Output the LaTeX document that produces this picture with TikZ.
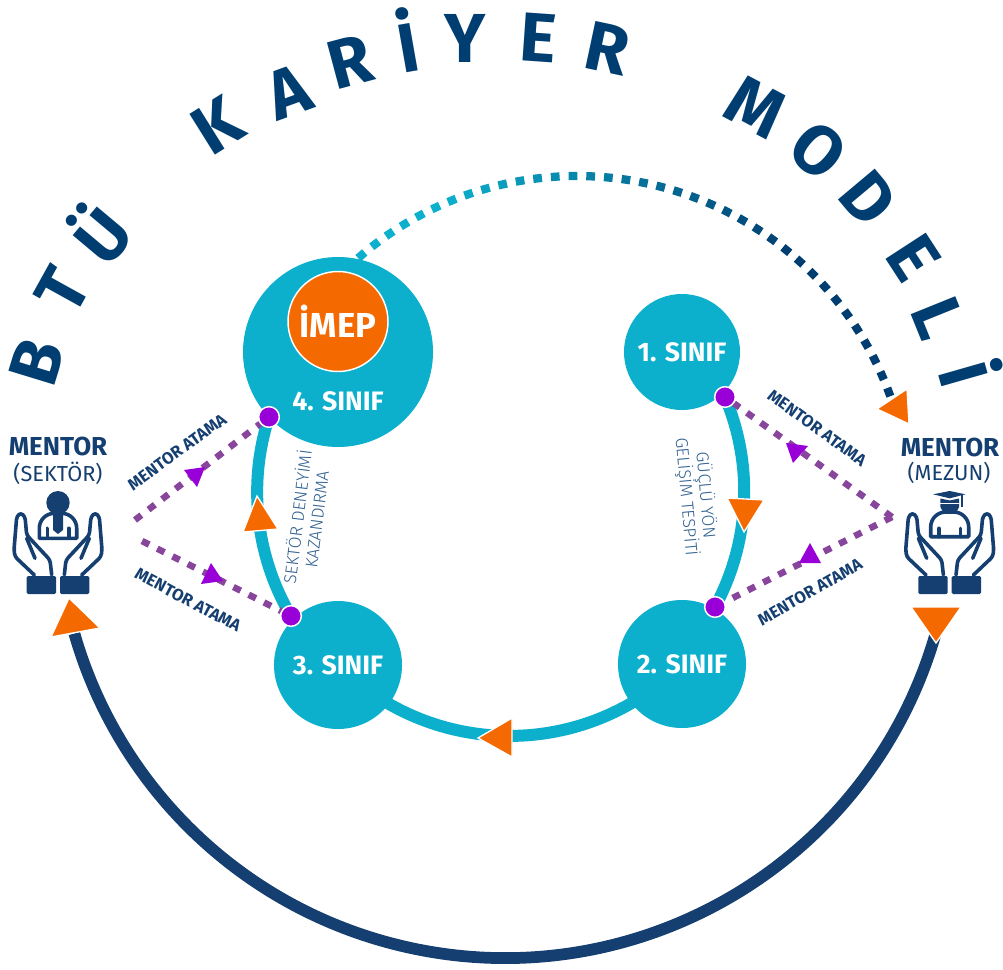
\documentclass[tikz,border=0pt]{standalone}
\usepackage{fontspec}
\setmainfont{Fira Sans}
\newfontfamily\lightfont{Fira Sans Light}
\usetikzlibrary{backgrounds}
\definecolor{teal}{HTML}{0CB0CC}
\definecolor{navy}{HTML}{153F70}
\definecolor{titleblue}{HTML}{003D70}
\definecolor{thinblue}{HTML}{2F5F8F}
\definecolor{orange}{HTML}{F56A00}
\definecolor{violet}{HTML}{9900D8}
\definecolor{plum}{HTML}{87469B}
\tikzset{
  x=0.75pt,y=-0.75pt,
  title/.style={text=titleblue,font=\fontsize{52}{52}\selectfont\bfseries,inner sep=0pt,outer sep=0pt},
  sinif/.style={circle,fill=teal,inner sep=0pt,text=white,font=\fontsize{20}{20}\selectfont\bfseries},
  sinifl/.style={text=white,font=\fontsize{20}{20}\selectfont\bfseries,inner sep=0pt},
  dotn/.style={circle,fill=violet,draw=white,line width=1.1pt,minimum size=15.5pt,inner sep=0pt},
  ring/.style={draw=teal,line width=9pt,line cap=butt},
  atama/.style={draw=plum,line width=4.9pt,dash pattern=on 6pt off 6.8pt},
  orangetip/.style={fill=orange,draw=white,line width=1pt,line join=miter},
  violettip/.style={fill=violet},
  mentor/.style={text=navy,font=\fontsize{19.5}{19.5}\selectfont\bfseries,inner sep=0pt},
  mentorsub/.style={text=navy,font=\fontsize{16.3}{16.3}\selectfont,inner sep=0pt},
  matama/.style={text=navy,font=\fontsize{12.5}{12.5}\selectfont\bfseries,inner sep=0pt},
  thin/.style={text=thinblue,font=\lightfont\fontsize{12.9}{14.5}\selectfont,align=center,inner sep=0pt},
  iconline/.style={draw=navy,line width=2.7pt,line cap=round,line join=round,fill=none},
}
\newcommand{\handpair}{%
  \foreach \s in {1,-1}{%
    \begin{scope}[xscale=\s]
      \draw[iconline,rounded corners=2.2pt] (-23.7,575)--(-43,556.7)--(-44,550)--(-41.3,516.7)--(-37.3,512.7)--(-33,516.7)--(-31.3,535)--(-8,560)--(-6.3,575);
      \draw[iconline] (-31.3,538.3)--(-23,558.3);
      \fill[navy,rounded corners=1pt] (-31.3,576) rectangle (-2,594);
    \end{scope}}%
}
\begin{document}
\begin{tikzpicture}
\useasboundingbox (0,0) rectangle (1003,970);
% title
\node[title,rotate=73] (t1) at (37,362) {B};
\node[title,rotate=61] (t2) at (63,290) {T};
\node[title,rotate=50] (t3) at (98,232) {Ü};
\node[title,rotate=32] (t4) at (217,125) {K};
\node[title,rotate=20] (t5) at (288,92) {A};
\node[title,rotate=15] (t6) at (350,62) {R};
\node[title,rotate=10] (t7) at (407,40) {İ};
\node[title,rotate=0] (t8) at (465,38) {Y};
\node[title,rotate=-4] (t9) at (538,38) {E};
\node[title,rotate=-12] (t10) at (607,48) {R};
\node[title,rotate=-28] (t11) at (756,107) {M};
\node[title,rotate=-40] (t12) at (818,150) {O};
\node[title,rotate=-50] (t13) at (868,198) {D};
\node[title,rotate=-57] (t14) at (914,258) {E};
\node[title,rotate=-68] (t15) at (938,318) {L};
\node[title,rotate=-74] (t16) at (972,372) {İ};
% class circles
\node[sinif,minimum size=142.5pt] (c4) at (338,352) {};
\node[sinifl] (c4l) at (338,401) {4. SINIF};
\node[circle,fill=orange,draw=white,line width=1.1pt,minimum size=75pt,inner sep=0pt,text=white,font=\fontsize{26}{26}\selectfont\bfseries] (imep) at (338,321.5) {İMEP};
\node[sinif,minimum size=87pt] (c1) at (682,352) {1. SINIF};
\node[sinif,minimum size=96pt] (c2) at (682,664) {2. SINIF};
\node[sinif,minimum size=96pt] (c3) at (338,665) {3. SINIF};
% dots
\node[dotn] (p4) at (269,417) {};
\node[dotn] (p1) at (725,397) {};
\node[dotn] (p2) at (715,607) {};
\node[dotn] (p3) at (291,616) {};
% free ends
\coordinate (apexL1) at (135,520);
\coordinate (apexL2) at (142,541);
\coordinate (apexR) at (892,517);
\coordinate (navyStart) at ({505+448*cos(15)},{510+448*sin(15)});
\begin{pgfonlayer}{background}
  \draw[ring] (p1.center) to[bend left=25.6,looseness=.9] (p2.center);
  \draw[ring] (c2.center) to[bend left=45] (c3.center);
  \draw[ring] (p3.center) to[bend left=24.3,looseness=.89] (p4.center);
  \draw[atama] (apexL1) -- (p4);
  \draw[atama] (apexL2) -- (p3);
  \draw[atama] (apexR) -- (p1);
  \draw[atama] (apexR) -- (p2);
  \draw[navy,line width=8.8pt] (navyStart) arc[start angle=15,end angle=164,radius=448];
\end{pgfonlayer}
% dotted top arc
\foreach \i in {0,...,36}{%
  \pgfmathsetmacro{\aa}{-131.1+3.05*\i}
  \pgfmathsetmacro{\ab}{\aa+1.5}
  \pgfmathsetmacro{\mixp}{max(0,min(100,(\i/37-0.15)/0.56*100))}
  \coordinate (da) at ({577+333*cos(\aa)},{509+333*sin(\aa)});
  \coordinate (db) at ({577+333*cos(\ab)},{509+333*sin(\ab)});
  \draw[draw=titleblue!\mixp!teal,line width=6.2pt] (da) -- (db);
}
% orange arrowheads
\draw[orangetip] (69,598)--(100,628)--(51,637)--cycle;
\draw[orangetip] (257,496)--(278,529)--(243,532)--cycle;
\draw[orangetip] (907,389)--(909,424)--(877,409)--cycle;
\draw[orangetip] (727,498)--(764,500)--(744,532)--cycle;
\draw[orangetip] (911,607)--(961,607)--(936,643)--cycle;
\draw[orangetip] (512,718)--(512,757)--(478,738)--cycle;
% violet arrowheads
\fill[violettip] (184,470)--(205,467)--(197,487)--cycle;
\fill[violettip] (211,563)--(223,581)--(201,584)--cycle;
\fill[violettip] (786,443)--(808,446)--(793,463)--cycle;
\fill[violettip] (810,543)--(821,563)--(799,563)--cycle;
% labels
\node[mentor] (ml) at (58,446) {MENTOR};
\node[mentorsub] (msl) at (58,473) {(SEKTÖR)};
\node[mentor] (mr) at (950,447) {MENTOR};
\node[mentorsub] (msr) at (949,473) {(MEZUN)};
\node[matama,rotate=36] (a1) at (177,452) {MENTOR ATAMA};
\node[matama,rotate=-28] (a2) at (188,600) {MENTOR ATAMA};
\node[matama,rotate=-36] (a3) at (817,428) {MENTOR ATAMA};
\node[matama,rotate=30] (a4) at (810,592) {MENTOR ATAMA};
\node[thin,rotate=83] (s1) at (306,518) {SEKTÖR DENEYİMİ\\KAZANDIRMA};
\node[thin,rotate=-85] (s2) at (696,496) {GÜÇLÜ YÖN\\GELİŞİM TESPİTİ};
% left icon
\begin{scope}[shift={(58,0)}]
  \handpair
  \fill[navy] (0,502.7) circle[radius=11.7];
  \fill[navy] (-5,512)--(5,512)--(5,530)--(0,534)--(-5,530)--cycle;
  \draw[iconline] (-18.7,538.3)--(-18.7,528.3) arc[start angle=180,end angle=270,radius=15]--(3.7,513.3) arc[start angle=270,end angle=360,radius=15]--(18.7,538.3)--cycle;
  \draw[iconline] (-10.7,528.3)--(-10.7,537.3) (10.7,528.3)--(10.7,537.3);
\end{scope}
% right icon
\begin{scope}[shift={(949.7,0)}]
  \handpair
  \fill[navy] (-16.7,494.3)--(0,491)--(15.7,494.3)--(0,498.3)--cycle;
  \fill[navy] (-9.3,498.5)--(0,500.5)--(9.3,498.5)--(9.3,507) .. controls (8,512) and (3,514) .. (0,514) .. controls (-3,514) and (-8,512) .. (-9.3,507)--cycle;
  \draw[white,line width=.8pt] (-9.5,503.5)--(9.5,503.5);
  \draw[navy,line width=.9pt] (12.3,495)--(12.3,506.7);
  \draw[iconline] (-19,536.7)--(-19,527) arc[start angle=180,end angle=270,radius=15]--(4,512) arc[start angle=270,end angle=360,radius=15]--(19,536.7)--cycle;
  \draw[iconline] (-10.7,528.3)--(-10.7,536.7) (10.7,528.3)--(10.7,536.7);
\end{scope}
\end{tikzpicture}
\end{document}
